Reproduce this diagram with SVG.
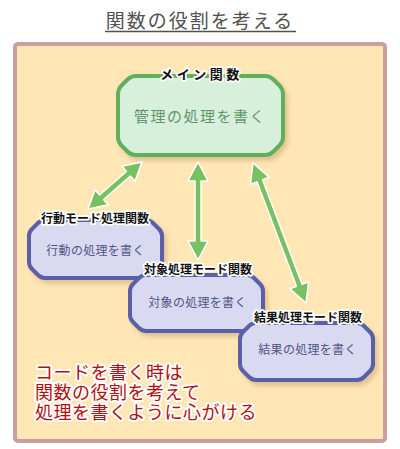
<svg xmlns="http://www.w3.org/2000/svg" width="400" height="449" viewBox="0 0 400 449">
  <defs>
    <style>
      text { font-family: "Noto Sans CJK JP", "Noto Sans", sans-serif; }
      .title { font-size: 19px; fill: #505050; letter-spacing: 2px; }
      .lbl { font-size: 12px; font-weight: bold; fill: #111; stroke: #fff; stroke-width: 3.5px; stroke-linejoin: round; paint-order: stroke; }
      .main-box { fill: #d6f0db; stroke: #63ae5d; stroke-width: 4; stroke-linejoin: round; }
      .sub-box { fill: #d9daf2; stroke: #5a5ea8; stroke-width: 4; stroke-linejoin: round; }
      .main-txt { font-size: 15px; fill: #62946a; letter-spacing: 1.5px; }
      .sub-txt { font-size: 12px; fill: #4f5483; letter-spacing: 0.3px; }
      .arrow { fill: #78c160; stroke: #fff; stroke-width: 1.5; stroke-linejoin: round; }
      .note { font-size: 18px; fill: #b01010; letter-spacing: 0.5px; stroke: #fff; stroke-width: 4px; stroke-linejoin: round; paint-order: stroke; }
    </style>
    <filter id="shadow" x="-10%" y="-10%" width="130%" height="140%">
      <feDropShadow dx="3" dy="4" stdDeviation="2" flood-color="#a07840" flood-opacity="0.3"/>
    </filter>
  </defs>

  <rect width="400" height="449" fill="#ffffff"/>

  <g id="title">
    <text class="title" x="200" y="27.5" text-anchor="middle">関数の役割を考える</text>
    <line x1="105" y1="31.5" x2="296" y2="31.5" stroke="#505050" stroke-width="1.5"/>
  </g>

  <g id="frame">
    <rect x="15" y="44" width="370" height="397" rx="3" fill="#ffe6b5" stroke="#c9a0a0" stroke-width="4"/>
  </g>

  <g id="main">
    <path class="main-box" filter="url(#shadow)" d="M136,76 H265 Q270,76 274,80 L279,85 Q283,89 283,94 V137 Q283,142 279,146 L274,151 Q270,155 265,155 H136 Q131,155 127,151 L122,146 Q118,142 118,137 V94 Q118,89 122,85 L127,80 Q131,76 136,76 Z"/>
    <text class="lbl" x="201.5" y="79" text-anchor="middle" style="font-size:13px;letter-spacing:3.5px">メイン関数</text>
    <text class="main-txt" x="200" y="122" text-anchor="middle">管理の処理を書く</text>
  </g>

  <g id="connectors">
    <polygon class="arrow" transform="translate(142,162) rotate(138.96)" points="0,0 18,-10 18,-3 53.6,-3 53.6,-10 71.6,0 53.6,10 53.6,3 18,3 18,10"/>
    <polygon class="arrow" transform="translate(198,162) rotate(90)" points="0,0 19,-10 19,-3 79,-3 79,-10 98,0 79,10 79,3 19,3 19,10"/>
    <polygon class="arrow" transform="translate(253,163) rotate(69.27)" points="0,0 19,-10 19,-3 130.7,-3 130.7,-10 149.7,0 130.7,10 130.7,3 19,3 19,10"/>
  </g>

  <g id="action">
    <path class="sub-box" filter="url(#shadow)" d="M45,220 H146 Q150,220 153,223 L159,229 Q162,232 162,236 V262 Q162,266 159,269 L153,275 Q150,278 146,278 H45 Q41,278 38,275 L32,269 Q29,266 29,262 V236 Q29,232 32,229 L38,223 Q41,220 45,220 Z"/>
    <text class="lbl" x="95" y="223" text-anchor="middle">行動モード処理関数</text>
    <text class="sub-txt" x="95.5" y="255" text-anchor="middle">行動の処理を書く</text>
  </g>

  <g id="target">
    <path class="sub-box" filter="url(#shadow)" d="M146,275 H247 Q251,275 254,278 L260,284 Q263,287 263,291 V315 Q263,319 260,322 L254,328 Q251,331 247,331 H146 Q142,331 139,328 L133,322 Q130,319 130,315 V291 Q130,287 133,284 L139,278 Q142,275 146,275 Z"/>
    <text class="lbl" x="198" y="274" text-anchor="middle">対象処理モード関数</text>
    <text class="sub-txt" x="197.5" y="307" text-anchor="middle">対象の処理を書く</text>
  </g>

  <g id="result">
    <path class="sub-box" filter="url(#shadow)" d="M256,323 H357 Q361,323 364,326 L370,332 Q373,335 373,339 V364 Q373,368 370,371 L364,377 Q361,380 357,380 H256 Q252,380 249,377 L243,371 Q240,368 240,364 V339 Q240,335 243,332 L249,326 Q252,323 256,323 Z"/>
    <text class="lbl" x="308" y="322" text-anchor="middle">結果処理モード関数</text>
    <text class="sub-txt" x="307.5" y="354" text-anchor="middle">結果の処理を書く</text>
  </g>

  <g id="note">
    <text class="note" x="35" y="379">コードを書く時は</text>
    <text class="note" x="35" y="399">関数の役割を考えて</text>
    <text class="note" x="35" y="419">処理を書くように心がける</text>
  </g>
</svg>
